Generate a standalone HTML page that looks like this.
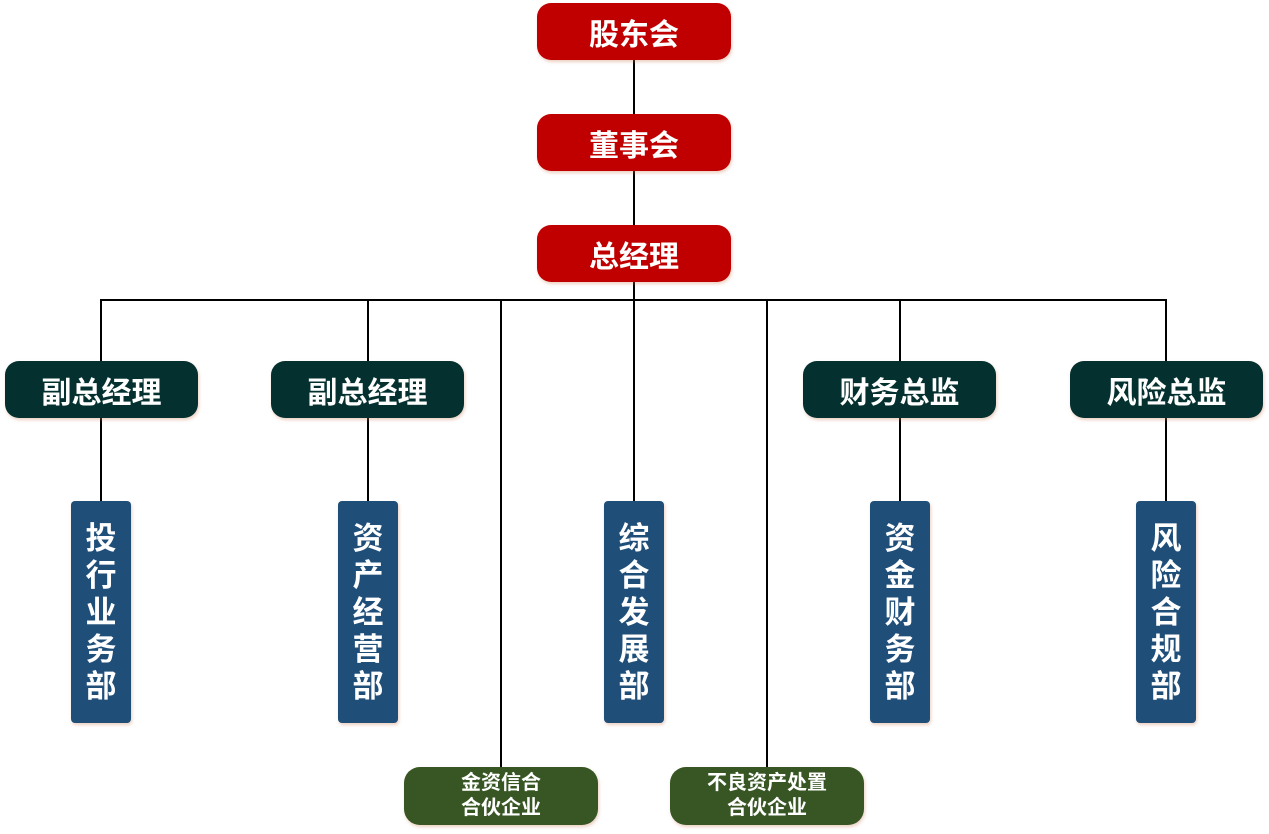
<!DOCTYPE html>
<html><head><meta charset="utf-8"><style>
body{margin:0;width:1269px;height:834px;background:#fff;position:relative;overflow:hidden;font-family:"Liberation Sans","Noto Sans CJK SC",sans-serif;font-weight:bold;color:#fff}
.b{position:absolute;display:flex;align-items:center;justify-content:center;text-align:center;box-shadow:1px 2px 3px rgba(200,120,80,.35)}
.r{background:#c00000;border-radius:14px;width:194px;height:57px;left:537px;font-size:30px}
.d{background:#04312f;border-radius:14px;width:193px;height:57px;top:361px;font-size:30px}
.u{background:#1f4e79;border-radius:4px;width:60px;height:222px;top:501px;font-size:31px;line-height:37px}
.g{background:#375623;border-radius:16px;width:194px;height:58px;top:767px;font-size:20px;line-height:25px}
.l{position:absolute;background:#000}
</style></head><body>
<div class="l" style="left:633px;top:60px;width:2px;height:241px"></div>
<div class="l" style="left:100px;top:299px;width:1067px;height:2px"></div>
<div class="l" style="left:100px;top:300px;width:2px;height:202px"></div>
<div class="l" style="left:367px;top:300px;width:2px;height:202px"></div>
<div class="l" style="left:500px;top:300px;width:2px;height:468px"></div>
<div class="l" style="left:633px;top:300px;width:2px;height:202px"></div>
<div class="l" style="left:766px;top:300px;width:2px;height:468px"></div>
<div class="l" style="left:899px;top:300px;width:2px;height:202px"></div>
<div class="l" style="left:1165px;top:300px;width:2px;height:202px"></div>
<div class="b r" style="top:3px">股东会</div>
<div class="b r" style="top:114px">董事会</div>
<div class="b r" style="top:225px">总经理</div>
<div class="b d" style="left:5px">副总经理</div>
<div class="b d" style="left:271px">副总经理</div>
<div class="b d" style="left:803px">财务总监</div>
<div class="b d" style="left:1070px">风险总监</div>
<div class="b u" style="left:71px">投<br>行<br>业<br>务<br>部</div>
<div class="b u" style="left:338px">资<br>产<br>经<br>营<br>部</div>
<div class="b u" style="left:604px">综<br>合<br>发<br>展<br>部</div>
<div class="b u" style="left:870px">资<br>金<br>财<br>务<br>部</div>
<div class="b u" style="left:1136px">风<br>险<br>合<br>规<br>部</div>
<div class="b g" style="left:404px">金资信合<br>合伙企业</div>
<div class="b g" style="left:670px">不良资产处置<br>合伙企业</div>
</body></html>
